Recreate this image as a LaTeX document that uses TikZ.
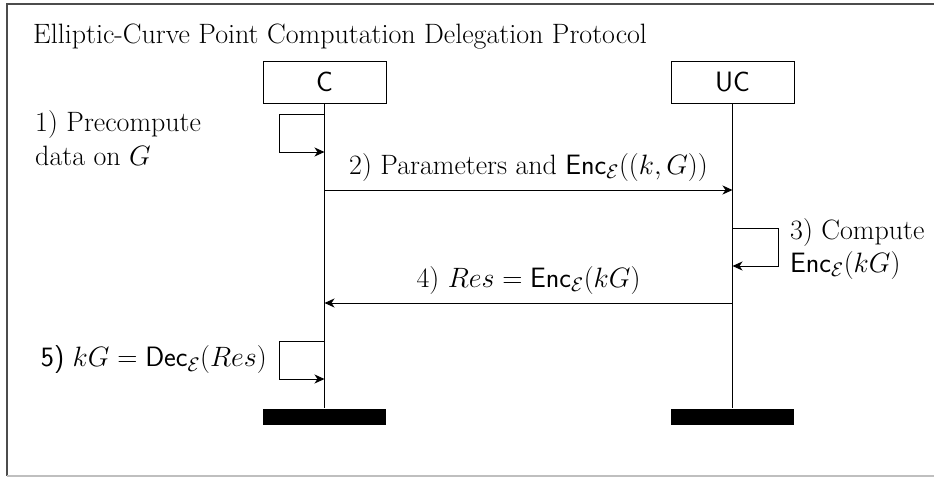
\RequirePackage{fix-cm}
\documentclass[tikz,border=0pt]{standalone}
\usetikzlibrary{arrows.meta}
\newcommand{\encE}{\mathsf{Enc}_{\mathcal{E}}}
\newcommand{\decE}{\mathsf{Dec}_{\mathcal{E}}}
\begin{document}
\begin{tikzpicture}[x=1pt,y=-1pt,
  every node/.style={font=\fontsize{28}{33.5}\selectfont, inner sep=0pt},
  actor/.style={draw, line width=1pt, minimum width=123pt, minimum height=42pt, font=\fontsize{28}{33.5}\selectfont\sffamily},
  endbar/.style={fill=black, minimum width=123pt, minimum height=16pt},
  life/.style={line width=1pt},
  msg/.style={line width=1pt, -{Stealth[length=10pt,width=9pt,inset=3pt]}},
  lbl/.style={align=left}
]
\useasboundingbox (0,0) rectangle (934,477);
% frame (right side cut off)
\draw[line width=1.2pt, black!70] (934,4) -- (7,4) -- (7,476);
\draw[line width=1.2pt, black!25] (7,476) -- (934,476);

\node[anchor=base west] (title) at (33,43) {Elliptic-Curve Point Computation Delegation Protocol};

\node[actor] (C) at (324.5,82) {C};
\node[actor] (UC) at (732.5,82) {UC};
\node[endbar] (Cend) at (324.5,416.5) {};
\node[endbar] (UCend) at (732.5,416.5) {};
\draw[life] (C) -- (Cend);
\draw[life] (UC) -- (UCend);

% step 1
\coordinate (s1a) at (324.5,114);
\coordinate (s1b) at (324.5,152);
\draw[msg] (s1a) -- (279,114) -- (279,152) -- (s1b);
\node[lbl, anchor=west] (l1) at (35,138) {1) Precompute\\data on $G$};

% step 2
\coordinate (m2a) at (324.5,190);
\coordinate (m2b) at (732.5,190);
\draw[msg] (m2a) -- node[above=8pt] (l2) {2) Parameters and $\encE((k,G))$} (m2b);

% step 3
\coordinate (s3a) at (732.5,228);
\coordinate (s3b) at (732.5,266);
\draw[msg] (s3a) -- (778,228) -- (778,266) -- (s3b);
\node[lbl, anchor=west] (l3) at (790,249) {3) Compute\\$\encE(kG)$};

% step 4
\coordinate (m4a) at (732.5,303);
\coordinate (m4b) at (324.5,303);
\draw[msg] (m4a) -- node[above=8pt] (l4) {4) $Res=\encE(kG)$} (m4b);

% step 5
\coordinate (s5a) at (324.5,341);
\coordinate (s5b) at (324.5,379);
\draw[msg] (s5a) -- (279,341) -- (279,379) -- (s5b);
\node[anchor=east] (l5) at (267,360) {\textsf{5)} $kG=\decE(Res)$};
\end{tikzpicture}
\end{document}
